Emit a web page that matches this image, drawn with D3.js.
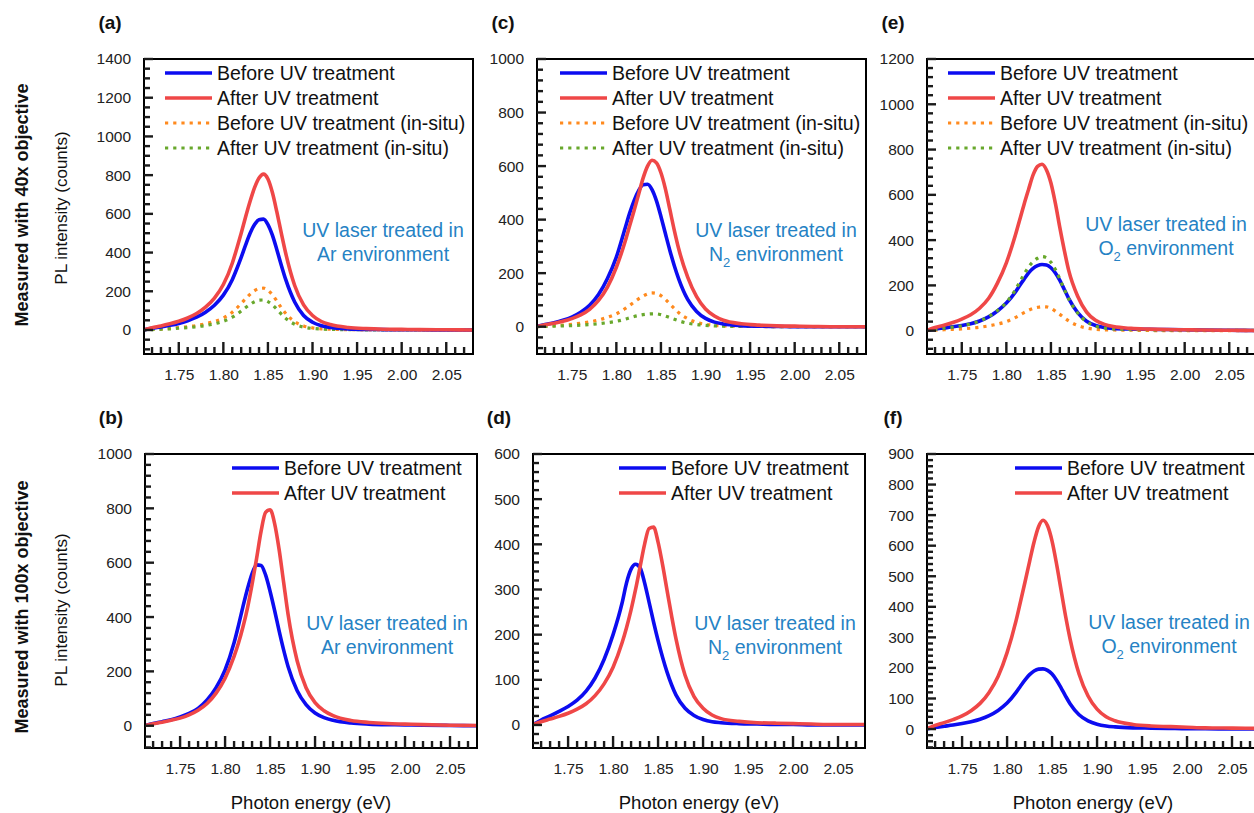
<!DOCTYPE html>
<html lang="en">
    <head>
        <meta charset="utf-8">
        <title>PL spectra before / after UV treatment</title>
        <script type="text/javascript" src="https://cdn.jsdelivr.net/npm/d3@7"></script>
        <style>
            body { margin: 0; background: #fff; }
            text { font-family: "Liberation Sans", Arial, sans-serif; }
        </style>
    </head>

    <body>
        <script type="text/javascript">
        var w = 1254;
        var h = 813;

        // photon energy grid (eV), shared by every spectrum
        var energy = [1.71, 1.72, 1.73, 1.74, 1.75, 1.76, 1.77, 1.78, 1.79, 1.80,
                      1.81, 1.815, 1.82, 1.825, 1.83, 1.835, 1.84, 1.845, 1.85, 1.855,
                      1.86, 1.865, 1.87, 1.88, 1.89, 1.90, 1.91, 1.92, 1.94, 1.96,
                      1.98, 2.00, 2.02, 2.05, 2.08];

        // (a) 40x, Ar
        var aBefore       = [0, 9, 16, 24, 34, 48, 66, 92, 128, 180, 260, 315, 375, 440, 500, 545, 570, 573, 545, 490, 415, 335, 260, 145, 75, 40, 22, 13, 6, 3, 2, 1, 1, 0, 0];
        var aAfter        = [0, 12, 21, 32, 45, 62, 85, 118, 165, 235, 345, 420, 500, 585, 665, 735, 785, 805, 780, 710, 610, 500, 395, 230, 130, 75, 44, 28, 13, 7, 4, 3, 2, 1, 0];
        var aBeforeInsitu = [0, 3, 5, 8, 12, 17, 23, 32, 44, 62, 92, 113, 137, 162, 185, 203, 214, 216, 205, 182, 150, 115, 85, 43, 21, 11, 6, 4, 2, 1, 1, 0, 0, 0, 0];
        var aAfterInsitu  = [0, 2, 4, 6, 9, 12, 17, 23, 32, 45, 66, 81, 98, 116, 132, 146, 154, 155, 147, 130, 107, 82, 60, 30, 15, 8, 5, 3, 2, 1, 1, 0, 0, 0, 0];

        // (c) 40x, N2
        var cBefore       = [0, 8, 15, 24, 36, 54, 80, 120, 180, 260, 370, 425, 472, 508, 530, 532, 512, 470, 412, 348, 285, 228, 178, 102, 57, 31, 17, 10, 4, 2, 1, 0, 0, 0, 0];
        var cAfter        = [0, 7, 13, 20, 30, 44, 65, 98, 148, 222, 320, 378, 435, 495, 555, 600, 622, 612, 575, 515, 438, 360, 290, 185, 112, 66, 40, 24, 11, 6, 3, 2, 1, 0, 0];
        var cBeforeInsitu = [0, 2, 4, 6, 9, 13, 18, 25, 35, 48, 68, 80, 92, 104, 114, 122, 126, 124, 116, 102, 85, 68, 52, 30, 16, 9, 5, 3, 2, 1, 0, 0, 0, 0, 0];
        var cAfterInsitu  = [0, 1, 2, 3, 4, 6, 8, 11, 15, 20, 28, 33, 38, 42, 45, 47, 48, 48, 45, 40, 34, 28, 22, 13, 8, 5, 3, 2, 1, 1, 0, 0, 0, 0, 0];

        // (e) 40x, O2
        var eBefore       = [0, 7, 12, 17, 23, 31, 43, 61, 87, 122, 170, 200, 228, 255, 275, 287, 292, 290, 278, 255, 222, 182, 142, 80, 42, 23, 14, 10, 7, 6, 5, 4, 3, 2, 1];
        var eAfter        = [0, 14, 24, 36, 51, 70, 99, 142, 210, 300, 420, 490, 560, 625, 688, 726, 735, 710, 652, 562, 455, 355, 265, 152, 82, 46, 28, 18, 10, 7, 5, 4, 3, 2, 1];
        var eBeforeInsitu = [0, 2, 4, 6, 8, 11, 15, 21, 29, 40, 58, 69, 80, 90, 98, 103, 106, 105, 98, 86, 72, 57, 43, 23, 12, 6, 4, 3, 2, 1, 0, 0, 0, 0, 0];
        var eAfterInsitu  = [0, 6, 11, 16, 22, 30, 43, 62, 89, 125, 180, 215, 250, 282, 305, 320, 327, 322, 302, 270, 228, 182, 140, 78, 40, 20, 12, 8, 5, 4, 3, 2, 2, 1, 1];

        // (b) 100x, Ar
        var bBefore = [0, 8, 15, 22, 32, 45, 64, 95, 140, 205, 305, 370, 440, 505, 560, 592, 590, 555, 495, 425, 350, 280, 218, 130, 78, 47, 30, 20, 10, 6, 4, 3, 2, 1, 0];
        var bAfter  = [0, 7, 13, 20, 28, 40, 57, 82, 120, 175, 255, 305, 365, 435, 520, 615, 715, 785, 795, 745, 650, 530, 410, 240, 140, 85, 55, 37, 19, 12, 8, 6, 4, 2, 1];

        // (d) 100x, N2
        var dBefore = [0, 11, 20, 30, 41, 55, 75, 104, 145, 200, 270, 315, 345, 356, 348, 315, 272, 228, 187, 150, 117, 89, 66, 37, 21, 12, 7, 5, 3, 2, 1, 1, 0, 0, 0];
        var dAfter  = [0, 7, 13, 19, 26, 35, 47, 65, 91, 128, 182, 216, 255, 300, 350, 400, 435, 438, 405, 355, 298, 242, 190, 110, 63, 37, 22, 14, 8, 5, 4, 3, 2, 1, 1];

        // (f) 100x, O2
        var fBefore = [0, 5, 9, 13, 18, 24, 32, 44, 61, 85, 120, 141, 161, 178, 190, 196, 197, 192, 180, 160, 135, 108, 83, 47, 27, 16, 10, 7, 4, 3, 2, 1, 1, 0, 0];
        var fAfter  = [0, 12, 21, 31, 43, 60, 84, 120, 172, 250, 355, 418, 482, 548, 612, 662, 683, 665, 615, 540, 455, 370, 295, 180, 108, 65, 40, 27, 15, 10, 8, 6, 4, 3, 2];

        // tick labels
        var xTicks = [1.75, 1.80, 1.85, 1.90, 1.95, 2.00, 2.05];
        var yTicksA = [0, 200, 400, 600, 800, 1000, 1200, 1400];
        var yTicksC = [0, 200, 400, 600, 800, 1000];
        var yTicksE = [0, 200, 400, 600, 800, 1000, 1200];
        var yTicksB = [0, 200, 400, 600, 800, 1000];
        var yTicksD = [0, 100, 200, 300, 400, 500, 600];
        var yTicksF = [0, 100, 200, 300, 400, 500, 600, 700, 800, 900];

        var legendLabels = ["Before UV treatment", "After UV treatment",
                            "Before UV treatment (in-situ)", "After UV treatment (in-situ)"];
        var gasNames = ["Ar", "N", "O"]; // N and O get a subscript 2
        var panelNames = ["(a)", "(b)", "(c)", "(d)", "(e)", "(f)"];

        var colBlue = "#0c0cf0", colRed = "#ef4747", colOrange = "#ff8a1e", colGreen = "#68a82c";
        var styles = [
            {color: colBlue,   width: 3.6, dash: null},
            {color: colRed,    width: 3.6, dash: null},
            {color: colOrange, width: 3.2, dash: "3.2,5"},
            {color: colGreen,  width: 3.2, dash: "3.2,5"}
        ];

        // layout of the six frames
        var panels = [
            {name: panelNames[0], x0: 144, x1: 473,  y0: 59,  y1: 354, yMin: -124, yMax: 1400, ticks: yTicksA, minor: 50, gas: 0, sub: false, series: [aBefore, aAfter, aBeforeInsitu, aAfterInsitu], legX: 21, noteDy: 171},
            {name: panelNames[2], x0: 537, x1: 866,  y0: 59,  y1: 354, yMin: -102, yMax: 1000, ticks: yTicksC, minor: 40, gas: 1, sub: true,  series: [cBefore, cAfter, cBeforeInsitu, cAfterInsitu], legX: 23, noteDy: 171},
            {name: panelNames[4], x0: 927, x1: 1256, y0: 59,  y1: 354, yMin: -103, yMax: 1200, ticks: yTicksE, minor: 40, gas: 2, sub: true,  series: [eBefore, eAfter, eBeforeInsitu, eAfterInsitu], legX: 21, noteDy: 165},
            {name: panelNames[1], x0: 145, x1: 477,  y0: 454, y1: 748, yMin: -82,  yMax: 1000, ticks: yTicksB, minor: 40, gas: 0, sub: false, series: [bBefore, bAfter], legX: 87, noteDy: 169},
            {name: panelNames[3], x0: 533, x1: 865,  y0: 454, y1: 748, yMin: -51,  yMax: 600,  ticks: yTicksD, minor: 20, gas: 1, sub: true,  series: [dBefore, dAfter], legX: 86, noteDy: 169},
            {name: panelNames[5], x0: 927, x1: 1259, y0: 454, y1: 748, yMin: -62,  yMax: 900,  ticks: yTicksF, minor: 20, gas: 2, sub: true,  series: [fBefore, fAfter], legX: 88, noteDy: 168}
        ];

        var svg = d3.select("body")
                    .append("svg")
                    .attr("width", w)
                    .attr("height", h);

        svg.append("rect").attr("width", w).attr("height", h).attr("fill", "#fff");

        var tickMarks = []; // [x, y, width, height] rectangles, drawn last

        panels.forEach(function(p, i){
            var xScale = d3.scaleLinear()
                            .domain([1.711, 2.08])
                            .range([p.x0, p.x1]);
            var yScale = d3.scaleLinear()
                            .domain([p.yMin, p.yMax])
                            .range([p.y1, p.y0]);

            var g = svg.append("g");

            // clip so curves stay inside the frame
            var clipId = "clip" + i;
            svg.append("clipPath").attr("id", clipId)
                .append("rect")
                .attr("x", p.x0).attr("y", p.y0)
                .attr("width", p.x1 - p.x0).attr("height", p.y1 - p.y0);

            // tick labels through d3 axes
            var xAxis = d3.axisBottom(xScale).tickValues(xTicks).tickSize(0).tickPadding(15).tickFormat(d3.format(".2f"));
            var yAxis = d3.axisLeft(yScale).tickValues(p.ticks).tickSize(0).tickPadding(13).tickFormat(d3.format("d"));

            g.append("g")
                .attr("transform", "translate(0," + p.y1 + ")")
                .call(xAxis)
                .call(function(s){ s.select(".domain").remove(); s.selectAll("line").remove(); });
            g.append("g")
                .attr("transform", "translate(" + p.x0 + ",0)")
                .call(yAxis)
                .call(function(s){ s.select(".domain").remove(); s.selectAll("line").remove(); });

            g.selectAll(".tick text")
                .attr("font-family", "'Liberation Sans', Arial, sans-serif")
                .attr("font-size", "15.5px")
                .attr("fill", "#222");

            // spectra
            var line = d3.line()
                        .x(function(d, k){ return xScale(energy[k]); })
                        .y(function(d){ return yScale(d); })
                        .curve(d3.curveMonotoneX);

            var order = p.series.length === 4 ? [2, 3, 0, 1] : [0, 1];
            if (i === 2) order = [2, 0, 3, 1];
            order.forEach(function(k){
                g.append("path")
                    .datum(p.series[k])
                    .attr("clip-path", "url(#" + clipId + ")")
                    .attr("d", line)
                    .attr("fill", "none")
                    .attr("stroke", styles[k].color)
                    .attr("stroke-width", styles[k].width)
                    .attr("stroke-dasharray", styles[k].dash)
                    .attr("stroke-linejoin", "round");
            });

            // frame
            g.append("rect")
                .attr("x", p.x0).attr("y", p.y0)
                .attr("width", p.x1 - p.x0).attr("height", p.y1 - p.y0)
                .attr("fill", "none")
                .attr("stroke", "#000")
                .attr("stroke-width", 2);

            // inward tick marks, placed with the scales
            d3.range(172, 208).forEach(function(v){
                var len = v % 5 === 0 ? 12 : 7;
                tickMarks.push([xScale(v / 100) - 1.2, p.y1 - len, 2.4, len]);
            });
            d3.range(Math.ceil(p.yMin / p.minor), Math.floor(p.yMax / p.minor) + 1).forEach(function(v){
                var val = v * p.minor;
                var len = p.ticks.indexOf(val) >= 0 ? 9 : 6;
                tickMarks.push([p.x0, yScale(val) - 1.2, len, 2.4]);
            });

            // legend
            var legY = p.y0 + 14;
            p.series.forEach(function(s, k){
                var yy = legY + k * 25;
                g.append("line")
                    .attr("x1", p.x0 + p.legX).attr("x2", p.x0 + p.legX + 47)
                    .attr("y1", yy).attr("y2", yy)
                    .attr("stroke", styles[k].color)
                    .attr("stroke-width", styles[k].width)
                    .attr("stroke-dasharray", styles[k].dash);
                g.append("text")
                    .attr("x", p.x0 + p.legX + 52)
                    .attr("y", yy)
                    .attr("dy", "0.35em")
                    .attr("font-size", "19.5px")
                    .attr("fill", "#111")
                    .text(legendLabels[k]);
            });

            // environment note
            var nx = p.x1 - 90;
            var ny = p.y0 + p.noteDy;
            g.append("text")
                .attr("x", nx).attr("y", ny).attr("dy", "0.35em")
                .attr("text-anchor", "middle")
                .attr("font-size", "19.5px")
                .attr("fill", "#2582c4")
                .text("UV laser treated in");
            var t2 = g.append("text")
                .attr("x", nx).attr("y", ny + 24).attr("dy", "0.35em")
                .attr("text-anchor", "middle")
                .attr("font-size", "19.5px")
                .attr("fill", "#2582c4");
            t2.append("tspan").text(gasNames[p.gas]);
            if (p.sub) {
                t2.append("tspan").attr("font-size", "13px").attr("dy", "0.45em").text("2");
                t2.append("tspan").attr("dy", "-0.3em").text(" environment");
            } else {
                t2.append("tspan").text(" environment");
            }

            // panel letter
            svg.append("text")
                .attr("x", p.x0 - 34).attr("y", p.y0 - 37).attr("dy", "0.35em")
                .attr("text-anchor", "middle")
                .attr("font-size", "19px")
                .attr("font-weight", "bold")
                .attr("fill", "#111")
                .text(p.name);

            // x title on bottom row only
            if (p.y0 > 400) {
                svg.append("text")
                    .attr("x", (p.x0 + p.x1) / 2).attr("y", 803).attr("dy", "0.35em")
                    .attr("text-anchor", "middle")
                    .attr("font-size", "18.5px")
                    .attr("fill", "#111")
                    .text("Photon energy (eV)");
            }
        });

        // row titles and y titles
        var rowTitles = ["Measured with 40x objective", "Measured with 100x objective"];
        var rowCenters = [205, 607];
        rowTitles.forEach(function(t, r){
            svg.append("text")
                .attr("transform", "translate(22," + rowCenters[r] + ") rotate(-90)")
                .attr("dy", "0.35em")
                .attr("text-anchor", "middle")
                .attr("font-size", "18px")
                .attr("font-weight", "bold")
                .attr("fill", "#111")
                .text(t);
            svg.append("text")
                .attr("transform", "translate(61," + (rowCenters[r] + 3) + ") rotate(-90)")
                .attr("dy", "0.35em")
                .attr("text-anchor", "middle")
                .attr("font-size", "17px")
                .attr("fill", "#111")
                .text("PL intensity (counts)");
        });

        // tick marks on top of everything
        svg.append("g")
            .selectAll("rect")
            .data(tickMarks)
            .enter()
            .append("rect")
            .attr("x", function(d){ return d[0]; })
            .attr("y", function(d){ return d[1]; })
            .attr("width", function(d){ return d[2]; })
            .attr("height", function(d){ return d[3]; })
            .attr("fill", "#1a1a1a");
        </script>
    </body>
</html>
